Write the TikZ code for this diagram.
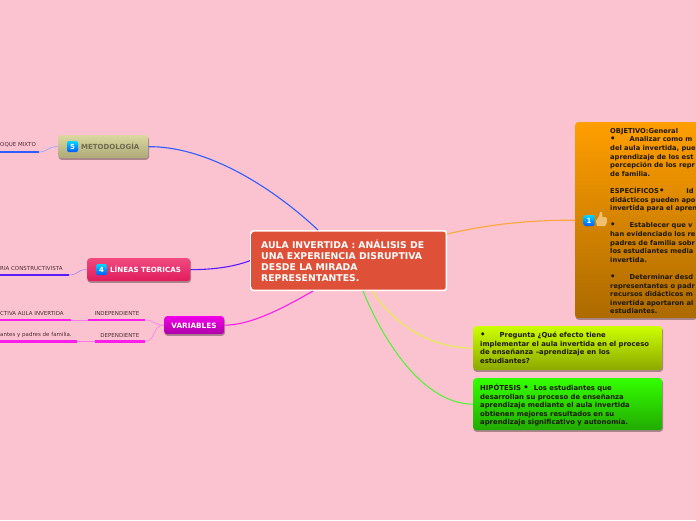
\documentclass[tikz,border=0pt]{standalone}
\usepackage{fontspec}
\setmainfont{DejaVu Sans}
\definecolor{bgpink}{HTML}{FBC3D0}
\definecolor{cblue}{HTML}{2F5CFF}
\definecolor{cviolet}{HTML}{5A1CFF}
\definecolor{cmag}{HTML}{FA1EEA}
\definecolor{corg}{HTML}{FFA63A}
\definecolor{cyel}{HTML}{E2EE4A}
\definecolor{cgrn}{HTML}{58F03A}
\definecolor{ink}{HTML}{1E1808}
\definecolor{lab}{HTML}{4A2A34}
\definecolor{mainA}{HTML}{DE5038}
\definecolor{mainB}{HTML}{F2583E}
\definecolor{metA}{HTML}{DCD8A0}
\definecolor{metB}{HTML}{ACA878}
\definecolor{metT}{HTML}{6E6A50}
\definecolor{linA}{HTML}{F04A80}
\definecolor{linB}{HTML}{E01C5C}
\definecolor{varA}{HTML}{F000E8}
\definecolor{varB}{HTML}{AE00A8}
\definecolor{objA}{HTML}{FF9E00}
\definecolor{objB}{HTML}{AC6A00}
\definecolor{preA}{HTML}{CCFF00}
\definecolor{preB}{HTML}{8CA800}
\definecolor{hipA}{HTML}{33FF00}
\definecolor{hipB}{HTML}{22AA00}
\definecolor{thumb}{HTML}{F0C070}
\newcommand{\bul}{{\fontsize{8.5}{8.6}\selectfont •}}
\tikzset{
  x=1pt,y=-1pt,
  mapbox/.style={draw=none,rounded corners=3pt,inner sep=0pt,anchor=north west},
  small/.style={font=\fontsize{5.5}{6}\selectfont,text=lab,inner sep=0pt},
  body/.style={font=\fontsize{6.85}{8.6}\bfseries\selectfont,text=ink,align=left,inner sep=0pt,anchor=north west},
  conn/.style={line width=1.1pt},
  thin conn/.style={line width=0.6pt},
  thick bar/.style={line width=2.2pt},
  badge/.style={rounded corners=1.5pt,shade,top color=cyan!85!blue,bottom color=blue!65!cyan,minimum width=11pt,minimum height=11pt,inner sep=0pt,text=white,font=\fontsize{7}{8}\bfseries\selectfont},
}
\newcommand{\softshadow}[4]{\fill[black!32!bgpink,rounded corners=3pt] (#1+0.5,#2+1.5) rectangle (#3+1,#4+1.8);}
\begin{document}
\begin{tikzpicture}
\useasboundingbox (0,0) rectangle (696,520);
\fill[bgpink] (0,0) rectangle (696,520);
\clip (0,0) rectangle (696,520);

% shadows
\softshadow{58}{135}{148}{158}
\softshadow{87}{258}{190}{281}
\softshadow{164}{316}{224}{334}
\softshadow{473}{326}{662}{370}
\softshadow{473}{378}{662}{430}
\softshadow{575}{122}{696}{318}

% nodes
\node[mapbox,minimum width=197pt,minimum height=61pt,fill=white] (mainw) at (250,230) {};
\node[mapbox,rounded corners=2.5pt,minimum width=194pt,minimum height=58pt,shade,top color=mainA,middle color=mainB,bottom color=mainA] (main) at (251.5,231.5) {};
\node[mapbox,minimum width=90pt,minimum height=23pt,shade,top color=metA,bottom color=metB] (met) at (58,135) {};
\node[mapbox,minimum width=103pt,minimum height=23pt,shade,top color=linA,bottom color=linB] (lin) at (87,258) {};
\node[mapbox,minimum width=60pt,minimum height=18pt,shade,top color=varA,bottom color=varB] (var) at (164,316) {};
\node[mapbox,minimum width=135pt,minimum height=196pt,shade,top color=objA,bottom color=objB] (obj) at (575,122) {};
\node[mapbox,minimum width=189pt,minimum height=44pt,shade,top color=preA,bottom color=preB] (pre) at (473,326) {};
\node[mapbox,minimum width=189pt,minimum height=52pt,shade,top color=hipA,bottom color=hipB] (hip) at (473,378) {};

\coordinate (a1) at (39,152);
\coordinate (a2) at (69,275);
\coordinate (a3) at (145,320);
\coordinate (a4) at (145,341.5);

% connectors from centre
\coordinate (m1) at (318,230);
\coordinate (m2) at (313,291);
\coordinate (m3) at (447,234);
\coordinate (m4) at (372,291);
\coordinate (m5) at (363,291);
\draw[conn,draw=cblue] (m1) .. controls (270,185) and (205,146) .. (met.east);
\draw[conn,draw=cviolet] (mainw.west) .. controls (230,268) and (210,269.5) .. (lin.east);
\draw[conn,draw=cmag] (m2) .. controls (280,310) and (250,325) .. (var.east);
\draw[conn,draw=corg] (m3) .. controls (490,224) and (530,220) .. (obj.west);
\draw[conn,draw=cyel] (m4) .. controls (395,325) and (430,348) .. (pre.west);
\draw[conn,draw=cgrn] (m5) .. controls (385,345) and (425,404) .. (hip.west);

% sub-branches
\coordinate (b0) at (0,152);
\draw[thick bar,draw=cblue] (b0) -- (a1);
\draw[thin conn,draw=cblue!55!white] (a1) .. controls (48,152) and (48,146) .. (met.west);
\coordinate (b1) at (0,275);
\draw[thick bar,draw=cviolet] (b1) -- (a2);
\draw[thin conn,draw=cviolet!55!white] (a2) .. controls (78,275) and (78,269) .. (lin.west);
\coordinate (c1) at (88,320);\coordinate (c0) at (71,320);\coordinate (c00) at (0,320);
\coordinate (d1) at (95,341.5);\coordinate (d0) at (77,341.5);\coordinate (d00) at (0,341.5);
\draw[thick bar,draw=cmag] (c1) -- (a3);
\draw[thick bar,draw=cmag] (c00) -- (c0);
\draw[thin conn,draw=cmag!60!white] (c0) -- (c1);
\draw[thin conn,draw=cmag!60!white] (a3) .. controls (155,320) and (153,325) .. (var.west);
\draw[thick bar,draw=cmag] (d1) -- (a4);
\draw[thick bar,draw=cmag] (d00) -- (d0);
\draw[thin conn,draw=cmag!60!white] (d0) -- (d1);
\draw[thin conn,draw=cmag!60!white] (a4) .. controls (156,341.5) and (152,325) .. (var.west);

% labels
\node[small,anchor=west] (t1) at (0,145) {OQUE MIXTO};
\node[small,anchor=west] (t2) at (0,268) {RIA CONSTRUCTIVISTA};
\node[small,anchor=west] (t3) at (0,313) {CTIVA AULA INVERTIDA};
\node[small,anchor=west] (t4) at (0,335) {antes y padres de familia.};
\node[small,anchor=east] (t5) at (139.5,313) {INDEPENDIENTE};
\node[small,anchor=east] (t6) at (139.5,335) {DEPENDIENTE};

% titles
\node[badge] (i5) at (72.5,146.5) {5};
\node[anchor=west,inner sep=0pt,font=\fontsize{7}{8}\bfseries\selectfont,text=metT] (tm) at (81,146.5) {METODOLOGÍA};
\node[badge] (i4) at (101.5,269.5) {4};
\node[anchor=west,inner sep=0pt,font=\fontsize{7.1}{8}\bfseries\selectfont,text=white] (tl) at (110,269.5) {LÍNEAS TEORICAS};
\node[inner sep=0pt,font=\fontsize{7.3}{8}\bfseries\selectfont,text=white] (tv) at (194,325.5) {VARIABLES};

\node[anchor=north west,inner sep=0pt,align=left,text=white,font=\fontsize{9.3}{10.8}\bfseries\selectfont] (tc) at (261,240) {AULA INVERTIDA : ANÁLISIS DE\\UNA EXPERIENCIA DISRUPTIVA\\DESDE LA MIRADA\\REPRESENTANTES.};

\node[body,font=\fontsize{6.7}{8.6}\bfseries\selectfont] (to) at (610,128) {OBJETIVO:General\\
\bul\hspace{14pt}Analizar como m\\
del aula invertida, pue\\
aprendizaje de los est\\
percepción de los repr\\
de familia.\\[8.6pt]
ESPECÍFICOS\bul\hspace{22pt}Id\\
didácticos pueden apo\\
invertida para el apren\\[8.6pt]
\bul\hspace{14pt}Establecer que v\\
han evidenciado los re\\
padres de familia sobr\\
los estudiantes media\\
invertida.\\[8.6pt]
\bul\hspace{14pt}Determinar desd\\
representantes o padr\\
recursos didácticos m\\
invertida aportaron al\\
estudiantes.};

\node[body] (tp) at (480,332) {\bul\hspace{14pt}Pregunta ¿Qué efecto tiene\\
implementar el aula invertida en el proceso\\
de enseñanza –aprendizaje en los\\
estudiantes?};
\node[body] (th) at (480,384) {HIPÓTESIS \bul\hspace{5pt}Los estudiantes que\\
desarrollan su proceso de enseñanza\\
aprendizaje mediante el aula invertida\\
obtienen mejores resultados en su\\
aprendizaje significativo y autonomía.};

\node[badge] (i1) at (589,220.5) {1};
\fill[thumb] (596,221) -- (599,216) -- (600,212) -- (602,212) -- (602.5,217) -- (606,217) .. controls (608,218) and (607,225) .. (605,226) -- (597,226) -- cycle;
\end{tikzpicture}
\end{document}
